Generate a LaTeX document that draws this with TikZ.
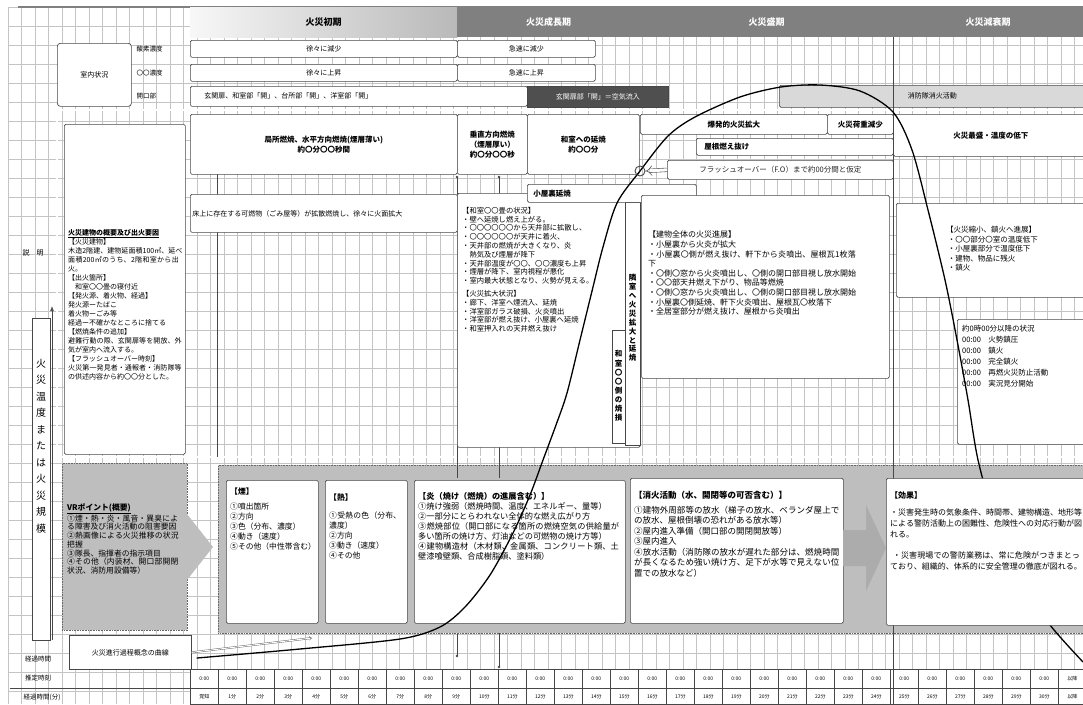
\documentclass[tikz,border=0pt]{standalone}
\usepackage{fontspec}
\setmainfont{Noto Sans CJK JP}
\XeTeXlinebreaklocale "ja"
\XeTeXlinebreakskip=0pt plus 1pt
\usepackage{xcolor}
\usepackage{tikz}
\usetikzlibrary{arrows.meta, positioning}

\definecolor{gridgray}{HTML}{C4C4C4}
\definecolor{boxline}{HTML}{474747}
\definecolor{phasegray}{HTML}{808080}
\definecolor{zonegray}{HTML}{BEBEBE}
\definecolor{darkbar}{HTML}{4F4F4F}

\begin{document}
\begin{tikzpicture}[
    x=1pt, y=-1pt,
    every node/.style={color=black, font=\fontsize{7}{9}\selectfont},
    gridline/.style={draw=gridgray, line width=0.5pt},
    phase/.style={anchor=north west, minimum height=30pt, inner sep=0pt,
                  text=white, font=\fontsize{9}{10}\selectfont\bfseries},
    box/.style={draw=boxline, fill=white, rounded corners=1.5pt, line width=0.7pt,
                anchor=north west, inner sep=2pt, align=center},
    hbox/.style={box, font=\fontsize{7.5}{10}\selectfont\bfseries},
    txt/.style={anchor=north west, inner sep=0pt, align=left},
    stack/.style={text width=12pt, align=center, inner sep=0pt},
    label/.style={font=\fontsize{6.5}{8}\selectfont},
    zone/.style={fill=zonegray, draw=gray!80!black, densely dotted, line width=0.6pt,
                 anchor=north west, inner sep=0pt},
    cell/.style={draw=boxline, fill=white, line width=0.6pt, anchor=north west,
                 minimum width=28pt, inner sep=0pt, font=\fontsize{5}{6}\selectfont},
    marker/.style={draw=boxline, line width=0.6pt},
    foarrow/.style={draw=gray!70!black, double=white, double distance=3pt,
                    line width=0.6pt, -{Implies}},
    hintarrow/.style={draw=gray!70!black, double=white, double distance=1pt,
                      line width=0.4pt, -{Implies}},
    curve/.style={line width=1.3pt, line cap=round}
]
\useasboundingbox (0,0) rectangle (1083,704);
\fill[white] (0,0) rectangle (1083,704);

% =========================================================
% GRID (squared sheet)
% =========================================================
\foreach \gx in {8,21.5,...,1083} \draw[gridline] (\gx,7) -- (\gx,704);
\foreach \gy in {7,26,...,704} \draw[gridline] (8,\gy) -- (1083,\gy);
\draw[gray, line width=1.5pt] (18,7) -- (1083,7);

% =========================================================
% TOP: fire phases and room conditions
% =========================================================
\node[phase, left color=gray!6, right color=gray!55, text=black,
      minimum width=267pt] (early) at (190,7) {火災初期};
\node[phase, fill=phasegray, minimum width=183pt] (growth) at (457,7) {火災成長期};
\node[phase, fill=phasegray, minimum width=253pt] (full) at (640,7) {火災盛期};
\node[phase, fill=phasegray, minimum width=190pt] (decay) at (893,7) {火災減衰期};

\node[box, rounded corners=3pt, minimum width=74pt, minimum height=63pt] (room) at (57,43) {室内状況};
\node[label, anchor=west] (o2lbl) at (133,49) {酸素濃度};
\node[label, anchor=west] (colbl) at (133,73) {〇〇濃度};
\node[label, anchor=west] (openlbl) at (133,96) {開口部};

\node[box, minimum width=267pt, minimum height=17pt] (o2slow) at (190,40) {徐々に減少};
\node[box, minimum width=138pt, minimum height=17pt] (o2fast) at (457,40) {急速に減少};
\node[box, minimum width=267pt, minimum height=17pt] (coslow) at (190,64) {徐々に上昇};
\node[box, minimum width=138pt, minimum height=17pt] (cofast) at (457,64) {急速に上昇};
\node[box, minimum height=20pt, text width=333pt, align=left] (opena) at (190,86)
    {\hspace*{12pt}玄関扉、和室部「開」、台所部「開」、洋室部「開」};
\node[box, fill=darkbar, text=white, rounded corners=0pt,
      minimum width=141pt, minimum height=21pt] (openb) at (527,86) {玄関扉部「開」＝空気流入};
\node[box, fill=gray!30, minimum width=306pt, minimum height=22pt] (fight) at (779,85) {消防隊消火活動};

% =========================================================
% MIDDLE: explanation frame
% =========================================================
\draw[draw=gray!70!black, double=white, double distance=1.5pt, line width=0.5pt]
    (57,110) rectangle (1095,457);
\draw[marker] (217,173) -- (217,457);

% guide lines behind the boxes
\draw[marker] (457,177) -- (457,656);
\fill[boxline] (457,177) circle (1.3pt);
\fill[boxline] (457,656) circle (1.3pt);
\draw[marker] (499,177) -- (499,667);
\fill[boxline] (499,177) circle (1.3pt);
\fill[boxline] (499,667) circle (1.3pt);

\node (explain) at (33,253) {説\quad 明};

\node[box, minimum width=121pt, minimum height=330pt] (summary) at (64,124) {};
\node[txt, text width=115pt] (summarytxt) at (68,229)
    {\textbf{\underline{火災建物の概要及び出火要因}}\\
     【火災建物】\\
     木造2階建、建物延面積100㎡、延べ面積200㎡のうち、2階和室から出火。\\
     【出火箇所】\\
     \quad 和室〇〇畳の寝付近\\
     【発火源、着火物、経過】\\
     発火源ーたばこ\\
     着火物ーごみ等\\
     経過ー不確かなところに捨てる\\
     【燃焼条件の追加】\\
     避難行動の際、玄関扉等を開放、外気が室内へ流入する。\\
     【フラッシュオーバー時刻】\\
     火災第一発見者・通報者・消防隊等の供述内容から約〇〇分とした。};

\node[hbox, minimum width=267pt, minimum height=60pt] (local) at (190,114)
    {局所燃焼、水平方向燃焼(煙層薄い)\\約〇分〇〇秒間};
\node[box, minimum height=38pt, text width=263pt, align=left] (floor) at (190,194)
    {床上に存在する可燃物（ごみ屋等）が拡散燃焼し、徐々に火面拡大};
\node[hbox, minimum width=70pt, minimum height=60pt] (upward) at (457,114)
    {垂直方向燃焼\\（煙層厚い）\\約〇分〇〇秒};
\node[hbox, minimum width=112pt, minimum height=60pt] (washitsu) at (527,114)
    {和室への延焼\\約〇〇分};
\node[hbox, minimum width=187pt, minimum height=20pt] (explosive) at (640,114) {爆発的火災拡大};
\node[hbox, minimum width=66pt, minimum height=20pt] (loadred) at (827,114) {火災荷重減少};
\node[hbox, minimum width=195pt, minimum height=42pt] (peak) at (893,114) {火災最盛・温度の低下};
\node[hbox, minimum height=17pt, text width=193pt, align=left] (roof) at (696,138)
    {\hspace*{6pt}屋根燃え抜け};
\node[box, minimum width=226pt, minimum height=19pt, text=gray!30!black,
      font=\fontsize{7.5}{9}\selectfont] (fobox) at (667,160)
    {フラッシュオーバー（F.O）まで約00分間と仮定};

% room by room progress
\node[box, minimum width=183pt, minimum height=254pt] (room6) at (457,193) {};
\node[txt, text width=150pt, font=\fontsize{7.3}{8.8}\selectfont] (room6txt) at (462,207)
    {【和室〇〇畳の状況】\\
     ・壁へ延焼し燃え上がる。\\
     ・〇〇〇〇〇〇から天井部に拡散し、\\
     ・〇〇〇〇〇〇が天井に着火、\\
     ・天井部の燃焼が大きくなり、炎\\
     \quad 熱気及び煙層が降下\\
     ・天井部温度が〇〇、〇〇濃度も上昇\\
     ・煙層が降下、室内視程が悪化\\
     ・室内最大状態となり、火勢が見える。\\[4pt]
     【火災拡大状況】\\
     ・廊下、洋室へ煙流入、延焼\\
     ・洋室部ガラス破損、火炎噴出\\
     ・洋室部が燃え抜け、小屋裏へ延焼\\
     ・和室押入れの天井燃え抜け};
\node[box, rounded corners=0pt, minimum width=15pt, minimum height=243pt, inner sep=0pt] (spread) at (625,202) {};
\node[stack, font=\fontsize{7.5}{8.9}\selectfont\bfseries] (spreadtxt) at (632.5,318)
    {隣\\室\\へ\\火\\災\\拡\\大\\と\\延\\焼};
\node[box, rounded corners=0pt, minimum width=13pt, minimum height=113pt, inner sep=0pt] (burnt) at (612,330) {};
\node[stack, font=\fontsize{7.5}{9.1}\selectfont\bfseries] (burnttxt) at (618.5,386)
    {和\\室\\〇\\〇\\側\\の\\焼\\損};
\node[hbox, minimum height=18pt, text width=165pt, align=left] (attic) at (527,184)
    {\hspace*{4pt}小屋裏延焼};

\node[box, minimum width=248pt, minimum height=183pt] (whole) at (641,195) {};
\node[txt, text width=210pt, font=\fontsize{8}{9.6}\selectfont] (wholetxt) at (648,231)
    {【建物全体の火災進展】\\
     ・小屋裏から火炎が拡大\\
     ・小屋裏〇側が燃え抜け、軒下から炎噴出、屋根瓦1枚落下\\
     ・〇側〇窓から火炎噴出し、〇側の開口部目視し放水開始\\
     ・〇〇部天井燃え下がり、物品等燃焼\\
     ・〇側〇窓から火炎噴出し、〇側の開口部目視し放水開始\\
     ・小屋裏〇側延焼、軒下火炎噴出、屋根瓦〇枚落下\\
     ・全居室部分が燃え抜け、屋根から炎噴出};

\node[box, minimum width=192pt, minimum height=94pt] (shrink) at (896,203) {};
\node[txt, font=\fontsize{7.5}{9.5}\selectfont] (shrinktxt) at (946,226)
    {【火災縮小、鎮火へ進展】\\
     \ ・〇〇部分〇室の温度低下\\
     \ ・小屋裏部分で温度低下\\
     \ ・建物、物品に残火\\
     \ ・鎮火};

\node[box, minimum width=132pt, minimum height=125pt] (after) at (957,319) {};
\node[txt, font=\fontsize{7.5}{11}\selectfont] (aftertxt) at (962,325)
    {約0時00分以降の状況\\
     00:00\quad 火勢鎮圧\\
     00:00\quad 鎮火\\
     00:00\quad 完全鎮火\\
     00:00\quad 再燃火災防止活動\\
     00:00\quad 実況見分開始};

% =========================================================
% LEFT: temperature / scale axis
% =========================================================
\node[box, rounded corners=0pt, minimum width=18pt, minimum height=322pt] (scalebox) at (32,318) {};
\node[stack, font=\fontsize{10}{16.5}\selectfont] (scaletxt) at (41,446)
    {火\\災\\温\\度\\ま\\た\\は\\火\\災\\規\\模};
\coordinate (tempfoot) at (52,640);
\coordinate (temphead) at (52,306);
\draw[boxline, line width=0.6pt, -{Latex[length=5pt]}] (tempfoot) -- (temphead);

% =========================================================
% BOTTOM: VR points and observation items
% =========================================================
\node[zone, minimum width=125pt, minimum height=167pt] (vrzone) at (62,463) {};
\fill[zonegray] (187,514) -- (213,547) -- (187,580) -- cycle;
\node[txt, text width=114pt, font=\fontsize{7.8}{8.7}\selectfont] (vrtxt) at (67,503)
    {\textbf{\underline{VRポイント(概要)}}\\
     ①煙・熱・炎・風音・異臭による障害及び消火活動の阻害要因\\
     ②熱画像による火災推移の状況把握\\
     ③隊長、指揮者の指示項目\\
     ④その他（内装材、開口部開閉状況、消防用設備等）};

\node[zone, minimum width=870pt, minimum height=168pt] (obszone) at (218,465) {};
\draw[marker] (893,37) -- (893,704);
\draw[marker] (457,465) -- (457,478);
\draw[marker] (499,465) -- (499,478);

\node[box, minimum width=92pt, minimum height=143pt] (smoke) at (226,480) {};
\node[txt, text width=86pt, font=\fontsize{7.8}{10}\selectfont] (smoketxt) at (230,488)
    {\textbf{【煙】}\\[5pt]
     ①噴出箇所\\②方向\\③色（分布、濃度）\\④動き（速度）\\⑤その他（中性帯含む）};
\node[box, minimum width=82pt, minimum height=143pt] (heat) at (325,480) {};
\node[txt, text width=76pt, font=\fontsize{7.8}{10}\selectfont] (heattxt) at (329,494)
    {\textbf{【熱】}\\[8pt]
     ①受熱の色（分布、濃度）\\②方向\\③動き（速度）\\④その他};
\node[box, minimum width=211pt, minimum height=143pt] (flame) at (414,480) {};
\node[txt, text width=204pt, font=\fontsize{8.2}{10}\selectfont] (flametxt) at (418,492)
    {\textbf{【炎（焼け（燃焼）の進展含む）】}\\
     ①焼け強弱（燃焼時間、温度、エネルギー、量等）\\
     ②一部分にとらわれない全体的な燃え広がり方\\
     ③燃焼部位（開口部になる箇所の燃焼空気の供給量が多い箇所の焼け方、灯油などの可燃物の焼け方等）\\
     ④建物構造材（木材類、金属類、コンクリート類、土壁漆喰壁類、合成樹脂類、塗料類）};
\node[box, minimum width=213pt, minimum height=145pt] (extinguish) at (630,478) {};
\node[txt, text width=206pt, font=\fontsize{8.5}{10.5}\selectfont] (extinguishtxt) at (634,491)
    {\textbf{【消火活動（水、開閉等の可否含む）】}\\[4pt]
     ①建物外周部等の放水（梯子の放水、ベランダ屋上での放水、屋根倒壊の恐れがある放水等）\\
     ②屋内進入準備（開口部の開閉開放等）\\
     ③屋内進入\\
     ④放水活動（消防隊の放水が遅れた部分は、燃焼時間が長くなるため強い焼け方、足下が水等で見えない位置での放水など）};
\fill[gray!65] (843,530) -- (866,530) -- (866,505) -- (886,548) -- (866,591)
    -- (866,566) -- (843,566) -- cycle;

% =========================================================
% BOTTOM ROWS: time table
% =========================================================
\node[label] (elapsed) at (38,659) {経過時間};
\node[label] (esttime) at (38,678) {推定時刻};
\node[label] (elapsedmin) at (42,697) {経過時間(分)};
\node[box, rounded corners=0pt, minimum width=122pt, minimum height=34pt] (curvelbl) at (69,635)
    {火災進行過程概念の曲線};

\foreach \i in {0,...,30}
    \node[cell, minimum height=19pt] (time\i) at ({190+28*\i},669) {0:00};
\node[cell, minimum height=19pt] (time31) at (1058,669) {以降};
\node[cell, minimum height=16pt] (min0) at (190,688) {覚知};
\foreach \i in {1,...,30}
    \node[cell, minimum height=16pt] (min\i) at ({190+28*\i},688) {{\i}分};
\node[cell, minimum height=16pt] (min31) at (1058,688) {以降};
\draw[boxline, line width=1pt] (10,688) -- (1083,688);
\draw[marker] (893,669) -- (893,704);

% =========================================================
% FIRE CURVE
% =========================================================
\draw[curve] plot[smooth, tension=0.5] coordinates {
    (197,658) (300,649) (400,639) (440,627) (465,607) (490,575) (513,533)
    (530,495) (543,460) (556,425) (567,393) (580,340) (593,287) (603,247)
    (617,203) (640,171) (668,136) (695,117) (740,97) (781,87) (820,85)
    (860,91) (893,112) (912,150) (928,210) (945,280) (957,340) (968,400)
    (978,460) (995,520) (1020,580) (1050,625) (1083,662)};

% effect box sits on top of the curve
\node[box, minimum width=200pt, minimum height=147pt] (effect) at (886,478) {};
\node[txt, text width=192pt, font=\fontsize{8}{11}\selectfont] (effecttxt) at (890,491)
    {\textbf{【効果】}\\[6pt]
     ・災害発生時の気象条件、時間帯、建物構造、地形等による警防活動上の困難性、危険性への対応行動が図れる。\\[10pt]
     \ ・災害現場での警防業務は、常に危険がつきまとっており、組織的、体系的に安全管理の徹底が図れる。};

% flash-over point
\node[circle, draw=boxline, line width=0.9pt, minimum size=10pt, inner sep=0pt] (fopoint) at (640,171) {};
\draw[foarrow] (fobox.west) -- (fopoint.east);

% pointer to the curve
\coordinate (hintend) at (312,638);
\draw[hintarrow] (curvelbl.east) -- (hintend);

\end{tikzpicture}
\end{document}
